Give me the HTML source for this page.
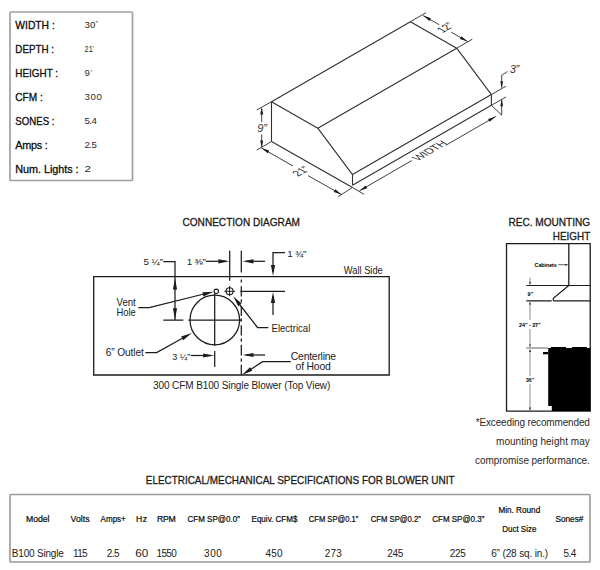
<!DOCTYPE html>
<html><head><meta charset="utf-8"><style>
html,body{margin:0;padding:0;background:#fff;width:600px;height:570px;overflow:hidden}
svg{display:block;font-family:"Liberation Sans",sans-serif}
</style></head><body>
<svg width="600" height="570" viewBox="0 0 600 570">
<rect x="10" y="12" width="122.5" height="168.5" rx="0.8" fill="none" stroke="#a0a0a0" stroke-width="1.7"/>
<text x="15.3" y="28.6" font-size="10.8" textLength="39.5" lengthAdjust="spacingAndGlyphs" stroke="#1c1c1c" stroke-width="0.3">WIDTH :</text>
<text x="15.3" y="52.8" font-size="10.8" textLength="38.7" lengthAdjust="spacingAndGlyphs" stroke="#1c1c1c" stroke-width="0.3">DEPTH :</text>
<text x="15.3" y="77.0" font-size="10.8" textLength="42.8" lengthAdjust="spacingAndGlyphs" stroke="#1c1c1c" stroke-width="0.3">HEIGHT :</text>
<text x="15.3" y="100.89999999999999" font-size="10.8" textLength="27.5" lengthAdjust="spacingAndGlyphs" stroke="#1c1c1c" stroke-width="0.3">CFM :</text>
<text x="15.3" y="125.1" font-size="10.8" textLength="39.2" lengthAdjust="spacingAndGlyphs" stroke="#1c1c1c" stroke-width="0.3">SONES :</text>
<text x="15.3" y="149.3" font-size="10.8" textLength="32.5" lengthAdjust="spacing" stroke="#1c1c1c" stroke-width="0.3">Amps :</text>
<text x="15.3" y="173.3" font-size="10.8" textLength="63.3" lengthAdjust="spacing" stroke="#1c1c1c" stroke-width="0.3">Num. Lights :</text>
<text x="84.6" y="100.0" font-size="9.7" fill="#2a2a2a" textLength="17.2" lengthAdjust="spacing">300</text>
<text x="84.6" y="124.2" font-size="9.7" fill="#2a2a2a" textLength="12.2" lengthAdjust="spacing">5.4</text>
<text x="84.6" y="148.4" font-size="9.7" fill="#2a2a2a" textLength="12.2" lengthAdjust="spacing">2.5</text>
<text x="84.6" y="172.4" font-size="9.7" fill="#2a2a2a" textLength="6.5" lengthAdjust="spacingAndGlyphs">2</text>
<text x="84.6" y="27.9" font-size="9.7" fill="#2a2a2a" textLength="10.8" lengthAdjust="spacing">30</text>
<text x="95.6" y="26.4" font-size="7.5" fill="#444">”</text>
<text x="84.6" y="52.1" font-size="9.7" fill="#2a2a2a" textLength="8.2" lengthAdjust="spacingAndGlyphs">21</text>
<text x="92.6" y="50.6" font-size="7.5" fill="#444">’</text>
<text x="84.6" y="76.3" font-size="9.7" fill="#2a2a2a" textLength="5.4" lengthAdjust="spacing">9</text>
<text x="90.6" y="74.8" font-size="7.5" fill="#444">’</text>
<path d="M271.50,101.70 L271.50,141.50 M271.50,141.50 L352.50,187.50 M352.50,185.30 L352.50,174.60 M352.50,174.60 L317.80,128.20 M317.80,128.20 L271.50,101.70 M271.50,101.70 L410.40,21.70 M410.40,21.70 L456.70,48.20 M317.80,128.20 L456.70,48.20 M456.70,48.20 L491.40,94.60 M352.50,174.60 L491.40,94.60 M352.50,185.30 L491.40,105.30 M491.40,94.60 L491.40,105.30 " stroke="#303030" stroke-width="1.1" fill="none"/>
<path d="M271.5,101.7 L256.7,110 M271.5,141.5 L256.7,150.1" stroke="#1c1c1c" stroke-width="0.85" fill="none"/>
<path d="M261.7,108.5 V122 M261.7,134.5 V147" stroke="#1c1c1c" stroke-width="0.85" fill="none"/>
<path d="M261.70,107.60 L263.20,114.60 L260.20,114.60 Z" fill="#1c1c1c"/>
<path d="M261.70,147.60 L260.20,140.60 L263.20,140.60 Z" fill="#1c1c1c"/>
<text x="257.2" y="132.0" font-size="11" fill="#333" textLength="9.6" lengthAdjust="spacing" font-style="italic">9”</text>
<path d="M352.5,187.5 L338.2,196.5 M261.5,148 L293,166 M308,175.6 L341.5,194.5" stroke="#1c1c1c" stroke-width="0.85" fill="none"/>
<path d="M261.50,148.00 L269.26,150.53 L267.69,153.32 Z" fill="#1c1c1c"/>
<path d="M341.50,194.50 L333.76,191.91 L335.35,189.14 Z" fill="#1c1c1c"/>
<text x="0" y="3.9" font-size="11.5" fill="#333" textLength="14.5" lengthAdjust="spacingAndGlyphs" text-anchor="middle" transform="matrix(0.866,-0.5,0.866,0.5,301,171.2)">21”</text>
<path d="M410.4,21.7 L426,12.7 M456.7,48.2 L472.3,39.2 M423.2,15.6 L439.3,24.8 M451.2,32.2 L467.6,41.5" stroke="#1c1c1c" stroke-width="0.85" fill="none"/>
<path d="M423.20,15.60 L430.93,18.20 L429.34,20.97 Z" fill="#1c1c1c"/>
<path d="M467.60,41.50 L459.87,38.90 L461.46,36.13 Z" fill="#1c1c1c"/>
<text x="0" y="3.9" font-size="11.5" fill="#333" textLength="14.5" lengthAdjust="spacingAndGlyphs" text-anchor="middle" transform="matrix(0.866,-0.5,0.866,0.5,445.3,27.6)">12”</text>
<path d="M352.5,187.5 L364,194.3 M491.4,105.3 L501.7,115.1 M359.5,190.8 L411.7,160.6 M445.8,145.3 L495.8,116.4" stroke="#1c1c1c" stroke-width="0.85" fill="none"/>
<path d="M359.50,190.80 L365.62,185.41 L367.23,188.18 Z" fill="#1c1c1c"/>
<path d="M495.80,116.40 L489.67,121.79 L488.07,119.02 Z" fill="#1c1c1c"/>
<text x="0" y="3.9" font-size="11" fill="#333" textLength="35" lengthAdjust="spacing" text-anchor="middle" transform="matrix(0.866,-0.5,0.866,0.5,429.5,150.5)">WIDTH</text>
<path d="M491.4,94.6 L506,86.2 M491.4,105.3 L506,96.9" stroke="#1c1c1c" stroke-width="0.85" fill="none"/>
<path d="M501.7,87.5 V75.2 L507.4,71.6 M501.7,99.5 V115.1" stroke="#1c1c1c" stroke-width="0.85" fill="none"/>
<path d="M501.70,88.20 L500.30,81.20 L503.10,81.20 Z" fill="#1c1c1c"/>
<path d="M501.70,99.20 L503.10,106.20 L500.30,106.20 Z" fill="#1c1c1c"/>
<text x="509.8" y="72.9" font-size="11" fill="#333" textLength="9.4" lengthAdjust="spacing" font-style="italic">3”</text>
<text x="182.5" y="226.1" font-size="11.4" fill="#1a1a1a" textLength="117.5" lengthAdjust="spacingAndGlyphs" stroke="#1a1a1a" stroke-width="0.3">CONNECTION DIAGRAM</text>
<path d="M93.7,276.6 H389.2 V375 H93.7 Z" stroke="#1c1c1c" stroke-width="1.3" fill="none"/>
<text x="143.5" y="265.2" font-size="9.8" fill="#222" textLength="19.5" lengthAdjust="spacing">5 ¼”</text>
<path d="M163.3,261.5 H175 V319.5 M163.3,320 H183.3" stroke="#1c1c1c" stroke-width="1.25" fill="none"/>
<path d="M175.00,278.60 L177.10,289.60 L172.90,289.60 Z" fill="#1c1c1c"/>
<path d="M175.00,319.20 L172.90,308.20 L177.10,308.20 Z" fill="#1c1c1c"/>
<text x="186.8" y="265.2" font-size="9.8" fill="#222" textLength="19" lengthAdjust="spacing">1 ⅜”</text>
<path d="M205.8,261.3 H226" stroke="#1c1c1c" stroke-width="1.25" fill="none"/>
<path d="M229.40,261.30 L218.40,263.40 L218.40,259.20 Z" fill="#1c1c1c"/>
<path d="M229.7,250.8 V280.8" stroke="#1c1c1c" stroke-width="1.25" fill="none"/>
<path d="M241.3,250.8 V272.4 M241.3,279.6 V282.6 M241.3,286.2 V296.4 M241.3,299.2 V302.4 M241.3,306.2 V316 M241.3,318.6 V321.8 M241.3,325.2 V335.6 M241.3,338.4 V341.8 M241.3,344.8 V355.4 M241.3,358.4 V361.8 M241.3,364.8 V375 " stroke="#1c1c1c" stroke-width="1.25" fill="none"/>
<path d="M265,261.3 H246" stroke="#1c1c1c" stroke-width="1.25" fill="none"/>
<path d="M242.50,261.30 L253.50,259.20 L253.50,263.40 Z" fill="#1c1c1c"/>
<text x="287.3" y="256.9" font-size="9.8" fill="#222" textLength="19" lengthAdjust="spacing">1 ¾”</text>
<path d="M285,252.5 H273 V272" stroke="#1c1c1c" stroke-width="1.25" fill="none"/>
<path d="M273.00,276.00 L270.90,265.00 L275.10,265.00 Z" fill="#1c1c1c"/>
<path d="M240.3,291.3 H285" stroke="#1c1c1c" stroke-width="1.25" fill="none"/>
<path d="M273,315 V296" stroke="#1c1c1c" stroke-width="1.25" fill="none"/>
<path d="M273.00,292.00 L275.10,303.00 L270.90,303.00 Z" fill="#1c1c1c"/>
<circle cx="214.8" cy="320" r="24.8" fill="none" stroke="#1c1c1c" stroke-width="1.25"/>
<path d="M188.3,320 H241.3 M214.7,293.3 V345.8 M214.7,350.9 V367" stroke="#1c1c1c" stroke-width="1.25" fill="none"/>
<circle cx="216.3" cy="291.3" r="2.2" fill="#fff" stroke="#1c1c1c" stroke-width="1.1"/>
<circle cx="229.6" cy="291.3" r="3.5" fill="none" stroke="#1c1c1c" stroke-width="1.1"/>
<path d="M224.4,291.3 H235 M229.6,285.9 V296.2" stroke="#1c1c1c" stroke-width="1.0" fill="none"/>
<text x="116.5" y="305.6" font-size="10.3" fill="#222" textLength="19.3" lengthAdjust="spacingAndGlyphs">Vent</text>
<text x="116.5" y="316.0" font-size="10.3" fill="#222" textLength="19.3" lengthAdjust="spacingAndGlyphs">Hole</text>
<path d="M138.3,307.5 H149.2 L206,293.5" stroke="#1c1c1c" stroke-width="1.25" fill="none"/>
<path d="M213.60,291.80 L203.41,296.45 L202.42,292.37 Z" fill="#1c1c1c"/>
<path d="M236.5,300.5 L257.5,327.5 H268.3" stroke="#1c1c1c" stroke-width="1.25" fill="none"/>
<path d="M233.20,296.20 L241.60,303.60 L238.29,306.18 Z" fill="#1c1c1c"/>
<text x="271.5" y="331.8" font-size="10.4" fill="#222" textLength="38.8" lengthAdjust="spacingAndGlyphs">Electrical</text>
<text x="105.8" y="355.8" font-size="10.2" fill="#222" textLength="38" lengthAdjust="spacing">6” Outlet</text>
<path d="M145.4,352.5 H156.7 L186,336.3" stroke="#1c1c1c" stroke-width="1.25" fill="none"/>
<path d="M191.80,333.00 L183.21,340.19 L181.17,336.52 Z" fill="#1c1c1c"/>
<text x="172.3" y="359.6" font-size="9.8" fill="#222" textLength="18" lengthAdjust="spacingAndGlyphs">3 ¼”</text>
<path d="M190.8,355.5 H210" stroke="#1c1c1c" stroke-width="1.25" fill="none"/>
<path d="M214.20,355.50 L203.20,357.60 L203.20,353.40 Z" fill="#1c1c1c"/>
<path d="M265,355 H246" stroke="#1c1c1c" stroke-width="1.25" fill="none"/>
<path d="M242.50,355.00 L253.50,352.90 L253.50,357.10 Z" fill="#1c1c1c"/>
<path d="M290.8,361.7 H262.5 L247,371.7" stroke="#1c1c1c" stroke-width="1.25" fill="none"/>
<path d="M241.90,375.00 L250.00,367.27 L252.28,370.80 Z" fill="#1c1c1c"/>
<text x="290.8" y="359.6" font-size="10.4" fill="#222" textLength="45.3" lengthAdjust="spacing">Centerline</text>
<text x="295.6" y="369.6" font-size="10.4" fill="#222" textLength="35.2" lengthAdjust="spacing">of Hood</text>
<text x="343.8" y="273.8" font-size="10.4" fill="#222" textLength="39" lengthAdjust="spacingAndGlyphs">Wall Side</text>
<text x="153.1" y="389.4" font-size="10" fill="#222" textLength="177.2" lengthAdjust="spacing">300 CFM B100 Single Blower (Top View)</text>
<text x="508.4" y="225.9" font-size="10.6" fill="#1a1a1a" textLength="81.8" lengthAdjust="spacingAndGlyphs" stroke="#1a1a1a" stroke-width="0.3">REC. MOUNTING</text>
<text x="552.8" y="240.1" font-size="10.6" fill="#1a1a1a" textLength="37.4" lengthAdjust="spacingAndGlyphs" stroke="#1a1a1a" stroke-width="0.3">HEIGHT</text>
<path d="M506.5,243.7 H590.2 V411.2 H506.5 Z" stroke="#1c1c1c" stroke-width="1.3" fill="none"/>
<path d="M568.8,243.7 V285.5" stroke="#1c1c1c" stroke-width="1.3" fill="none"/>
<text x="534.6" y="266.5" font-size="5.5" font-weight="700" textLength="22.2" lengthAdjust="spacing">Cabinets</text>
<path d="M558.3,264.7 H566" stroke="#1c1c1c" stroke-width="0.7" fill="none"/>
<path d="M568.30,264.70 L565.30,265.70 L565.30,263.70 Z" fill="#1c1c1c"/>
<path d="M526.3,285.5 H590.5 M568.8,285.5 L553.3,298.3 V300.8 M526.3,300.8 H551.7 M553.3,300.8 H590.5" stroke="#1c1c1c" stroke-width="1.2" fill="none"/>
<path d="M530,277.5 V283.3 M530,303.3 V320 M530,329 V345 M530,350 V376 M530,384 V410" stroke="#444" stroke-width="0.6" fill="none"/>
<path d="M530.00,285.00 L529.10,282.00 L530.90,282.00 Z" fill="#1c1c1c"/>
<path d="M530.00,301.50 L530.90,304.50 L529.10,304.50 Z" fill="#1c1c1c"/>
<path d="M530.00,347.50 L529.10,344.50 L530.90,344.50 Z" fill="#1c1c1c"/>
<path d="M530.00,349.00 L530.90,352.00 L529.10,352.00 Z" fill="#1c1c1c"/>
<path d="M530.00,410.50 L529.10,407.50 L530.90,407.50 Z" fill="#1c1c1c"/>
<text x="527.6" y="295.5" font-size="5.5" font-weight="700" textLength="5.8" lengthAdjust="spacing">9”</text>
<text x="519" y="326.9" font-size="5.5" font-weight="700" textLength="21.8" lengthAdjust="spacing">24” - 27”</text>
<text x="526" y="382.2" font-size="5.5" font-weight="700" textLength="8.2" lengthAdjust="spacingAndGlyphs">36”</text>
<path d="M526.3,348 H548" stroke="#1c1c1c" stroke-width="0.7" fill="none"/>
<path d="M548.2,348 H590.4 V411 H551.8 V406 H548.2 Z" stroke="none" stroke-width="0" fill="#000"/>
<path d="M543,352 H548.5 V354.3 H543 Z" stroke="none" stroke-width="0" fill="#000"/>
<path d="M551,347 H566 V348 H551 Z M572,347 H587 V348 H572 Z" stroke="none" stroke-width="0" fill="#000"/>
<text x="475.7" y="426.0" font-size="10" fill="#2a2a2a" textLength="114.2" lengthAdjust="spacing">*Exceeding recommended</text>
<text x="496.0" y="445.1" font-size="10" fill="#2a2a2a" textLength="93.8" lengthAdjust="spacing">mounting height may</text>
<text x="475.0" y="463.8" font-size="10" fill="#2a2a2a" textLength="114.9" lengthAdjust="spacing">compromise performance.</text>
<text x="145.8" y="484.4" font-size="10.8" fill="#1a1a1a" textLength="308.7" lengthAdjust="spacingAndGlyphs" stroke="#1a1a1a" stroke-width="0.3">ELECTRICAL/MECHANICAL SPECIFICATIONS FOR BLOWER UNIT</text>
<rect x="10" y="494.5" width="580" height="67.5" rx="0.8" fill="none" stroke="#999" stroke-width="1.6"/>
<text x="26.1" y="521.6" font-size="8.7" textLength="23.4" lengthAdjust="spacing" stroke="#1c1c1c" stroke-width="0.22">Model</text>
<text x="70.6" y="521.6" font-size="8.7" textLength="18.9" lengthAdjust="spacing" stroke="#1c1c1c" stroke-width="0.22">Volts</text>
<text x="100.6" y="521.6" font-size="8.7" textLength="25.2" lengthAdjust="spacingAndGlyphs" stroke="#1c1c1c" stroke-width="0.22">Amps+</text>
<text x="136.1" y="521.6" font-size="8.7" textLength="10.9" lengthAdjust="spacing" stroke="#1c1c1c" stroke-width="0.22">Hz</text>
<text x="157.1" y="521.6" font-size="8.7" textLength="18.7" lengthAdjust="spacing" stroke="#1c1c1c" stroke-width="0.22">RPM</text>
<text x="187.5" y="521.6" font-size="8.7" textLength="52.3" lengthAdjust="spacingAndGlyphs" stroke="#1c1c1c" stroke-width="0.22">CFM SP@0.0”</text>
<text x="251.5" y="521.6" font-size="8.7" textLength="46.0" lengthAdjust="spacingAndGlyphs" stroke="#1c1c1c" stroke-width="0.22">Equiv. CFM$</text>
<text x="308.8" y="521.6" font-size="8.7" textLength="49.5" lengthAdjust="spacingAndGlyphs" stroke="#1c1c1c" stroke-width="0.22">CFM SP@0.1”</text>
<text x="370.8" y="521.6" font-size="8.7" textLength="50.0" lengthAdjust="spacingAndGlyphs" stroke="#1c1c1c" stroke-width="0.22">CFM SP@0.2”</text>
<text x="432.3" y="521.6" font-size="8.7" textLength="52.0" lengthAdjust="spacingAndGlyphs" stroke="#1c1c1c" stroke-width="0.22">CFM SP@0.3”</text>
<text x="498.4" y="512.8" font-size="8.7" textLength="41.8" lengthAdjust="spacingAndGlyphs" stroke="#1c1c1c" stroke-width="0.22">Min. Round</text>
<text x="502.2" y="531.6" font-size="8.7" textLength="34.2" lengthAdjust="spacingAndGlyphs" stroke="#1c1c1c" stroke-width="0.22">Duct Size</text>
<text x="555.4" y="522.2" font-size="8.7" textLength="28" lengthAdjust="spacingAndGlyphs" stroke="#1c1c1c" stroke-width="0.22">Sones#</text>
<text x="11.8" y="556.9" font-size="10" fill="#222" textLength="52.0" lengthAdjust="spacing">B100 Single</text>
<text x="106.8" y="556.9" font-size="10" fill="#222" textLength="12.8" lengthAdjust="spacing">2.5</text>
<text x="135.3" y="556.9" font-size="10" fill="#222" textLength="13.0" lengthAdjust="spacingAndGlyphs">60</text>
<text x="156.5" y="556.9" font-size="10" fill="#222" textLength="20.3" lengthAdjust="spacing">1550</text>
<text x="204.1" y="556.9" font-size="10" fill="#222" textLength="17.7" lengthAdjust="spacing">300</text>
<text x="265.5" y="556.9" font-size="10" fill="#222" textLength="17.0" lengthAdjust="spacing">450</text>
<text x="324.8" y="556.9" font-size="10" fill="#222" textLength="17.0" lengthAdjust="spacing">273</text>
<text x="387.3" y="556.9" font-size="10" fill="#222" textLength="16.0" lengthAdjust="spacing">245</text>
<text x="449.8" y="556.9" font-size="10" fill="#222" textLength="16.0" lengthAdjust="spacing">225</text>
<text x="491.2" y="556.9" font-size="10" fill="#222" textLength="57.0" lengthAdjust="spacing">6” (28 sq. in.)</text>
<text x="563.4" y="556.9" font-size="10" fill="#222" textLength="13.0" lengthAdjust="spacing">5.4</text>
<text x="80.0" y="556.9" font-size="10" fill="#222" text-anchor="middle" letter-spacing="-0.6">115</text>
</svg>
</body></html>
